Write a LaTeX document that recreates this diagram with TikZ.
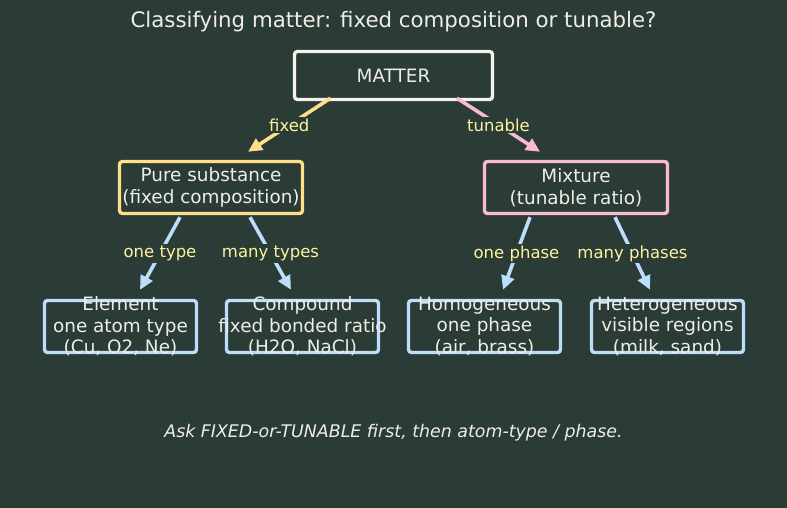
\documentclass[tikz,border=0pt]{standalone}
\usepackage{fontspec}
\setmainfont{DejaVu Sans}
\usetikzlibrary{arrows.meta,calc}

\definecolor{bgboard}{HTML}{2B3B35}
\definecolor{inkwhite}{HTML}{EEEEE6}
\definecolor{rootcol}{HTML}{F3F3EA}
\definecolor{fixcol}{HTML}{FFE08A}
\definecolor{tunecol}{HTML}{F8BBD0}
\definecolor{leafcol}{HTML}{BBDEFB}
\definecolor{lblcol}{HTML}{FFF3A0}

\tikzset{
  box/.style={draw=#1, line width=3.4pt, rounded corners=3pt, inner sep=0pt,
    minimum height=52pt, text=inkwhite, align=center,
    font=\fontsize{18.4}{21.5}\selectfont},
  boxtext/.style={text=inkwhite, align=center, inner sep=0pt,
    font=\fontsize{18.4}{21.5}\selectfont},
  arr/.style={draw=#1, line width=3.6pt, -{Triangle[length=14pt,width=13pt]}},
  lbl/.style={fill=bgboard, text=lblcol, inner sep=1.5pt,
    font=\fontsize{16.5}{19}\selectfont}
}

\begin{document}
\begin{tikzpicture}[x=1pt,y=-1pt]
\fill[bgboard] (0,0) rectangle (787,508);
\useasboundingbox (0,0) rectangle (787,508);

\node[text=inkwhite, font=\fontsize{21.3}{25}\selectfont] (title) at (393.5,22) {Classifying matter: fixed composition or tunable?};

% root and first split
\node[box=rootcol, minimum width=198pt, minimum height=48pt] (matter) at (393.5,75.5) {MATTER};
\node[box=fixcol, minimum width=183pt] (pure) at (211,187.5) {Pure substance\\(fixed composition)};
\node[box=tunecol, minimum width=183pt] (mix) at (576,187.5) {Mixture\\(tunable ratio)};

% leaves, text runs over the frame
\node[box=leafcol, minimum width=152pt] (elem) at (120.5,326.5) {};
\node[box=leafcol, minimum width=152pt] (comp) at (302.5,326.5) {};
\node[box=leafcol, minimum width=152pt] (homo) at (484.5,326.5) {};
\node[box=leafcol, minimum width=152pt] (hetero) at (667.5,326.5) {};
\node[boxtext] (elemtxt) at (elem) {Element\\one atom type\\(Cu, O2, Ne)};
\node[boxtext] (comptxt) at (comp) {Compound\\fixed bonded ratio\\(H2O, NaCl)};
\node[boxtext] (homotxt) at (homo) {Homogeneous\\one phase\\(air, brass)};
\node[boxtext] (heterotxt) at (hetero) {Heterogeneous\\visible regions\\(milk, sand)};

\draw[arr=fixcol] ($(matter.south)+(-63,-3)$) -- node[lbl] {fixed} ($(pure.north)+(37,-8)$);
\draw[arr=tunecol] ($(matter.south)+(63.5,-3)$) -- node[lbl] {tunable} ($(mix.north)+(-36,-8)$);

\draw[arr=leafcol] ($(pure.south)+(-31,2)$) -- node[lbl] {one type} ($(elem.north)+(19.5,-9)$);
\draw[arr=leafcol] ($(pure.south)+(39,2)$) -- node[lbl] {many types} ($(comp.north)+(-11.5,-9)$);
\draw[arr=leafcol] ($(mix.south)+(-46,2)$) -- node[lbl] {one phase} ($(homo.north)+(18.5,-9)$);
\draw[arr=leafcol] ($(mix.south)+(39,2)$) -- node[lbl] {many phases} ($(hetero.north)+(-17.5,-9)$);

\node[text=inkwhite, font=\fontsize{17.4}{20}\selectfont\itshape] (note) at (393.5,433) {Ask FIXED-or-TUNABLE first, then atom-type / phase.};
\end{tikzpicture}
\end{document}
